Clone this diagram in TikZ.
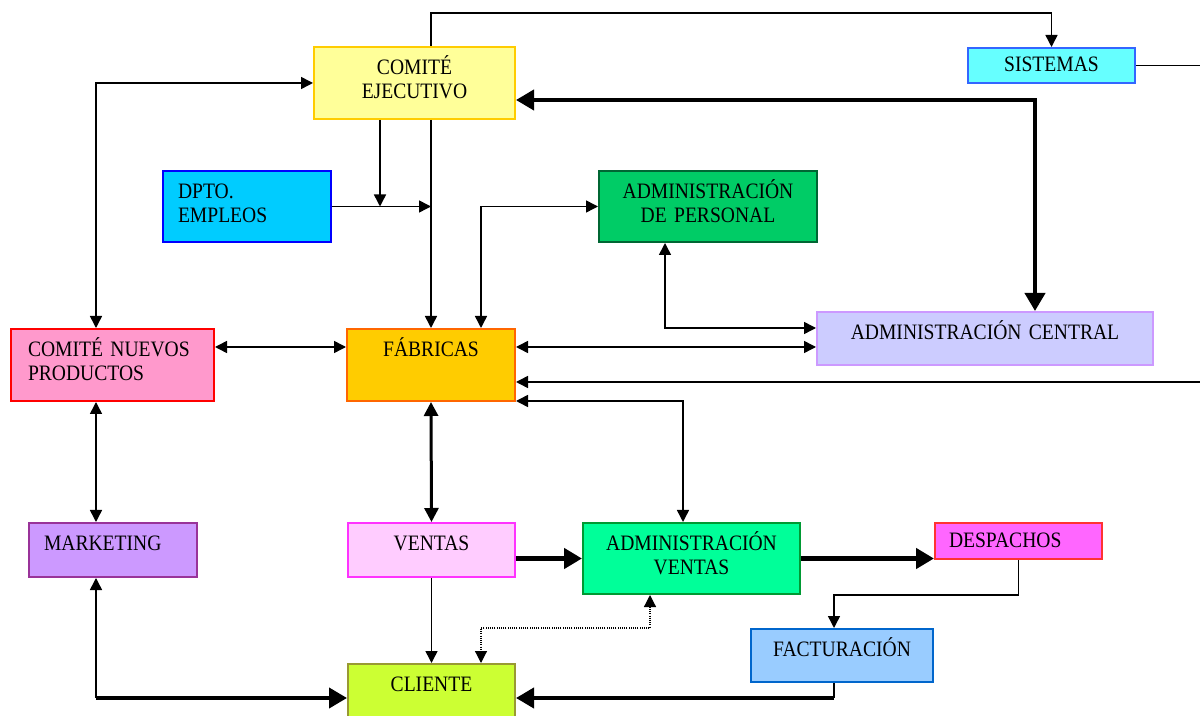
\documentclass[tikz,border=0pt]{standalone}
\usepackage{fontspec}
\setmainfont{Liberation Serif}[FakeStretch=0.89]
\usepackage{tikz}
\usetikzlibrary{arrows.meta}
\definecolor{ejecfill}{HTML}{FFFF99}
\definecolor{ejecdraw}{HTML}{FFCC00}
\definecolor{sistfill}{HTML}{66FFFF}
\definecolor{sistdraw}{HTML}{3366FF}
\definecolor{dptofill}{HTML}{00CCFF}
\definecolor{dptodraw}{HTML}{0000FF}
\definecolor{adperfill}{HTML}{00CC66}
\definecolor{adperdraw}{HTML}{006633}
\definecolor{adcenfill}{HTML}{CCCCFF}
\definecolor{adcendraw}{HTML}{CC99FF}
\definecolor{cnpfill}{HTML}{FF99CC}
\definecolor{cnpdraw}{HTML}{FF0000}
\definecolor{fabfill}{HTML}{FFCC00}
\definecolor{fabdraw}{HTML}{FF6600}
\definecolor{mktfill}{HTML}{CC99FF}
\definecolor{mktdraw}{HTML}{993399}
\definecolor{venfill}{HTML}{FFCCFF}
\definecolor{vendraw}{HTML}{FF33FF}
\definecolor{advenfill}{HTML}{00FF99}
\definecolor{advendraw}{HTML}{009933}
\definecolor{despfill}{HTML}{FF66FF}
\definecolor{despdraw}{HTML}{FF3333}
\definecolor{factfill}{HTML}{99CCFF}
\definecolor{factdraw}{HTML}{0066CC}
\definecolor{clifill}{HTML}{CCFF33}
\definecolor{clidraw}{HTML}{999933}
\tikzset{
    org-box/.style = {rectangle, line width=1pt, anchor=north west, inner ysep=0pt, text height=13.8pt, font=\fontsize{11}{12.2}\selectfont},
    org-box-center/.style = {org-box, inner xsep=0pt, align=center},
    org-box-left/.style = {org-box, align=left},
    org-link/.style = {line width=0.75pt, >={Triangle[length=6pt,width=6pt]}},
    org-link-mid/.style = {line width=1.5pt, >={Triangle[length=7pt,width=7pt]}},
    org-link-bold/.style = {line width=2pt, >={Triangle[length=9pt,width=10pt]}},
    org-link-dots/.style = {line width=0.6pt, dash pattern=on 0.5pt off 0.6pt, >={Triangle[length=6pt,width=6pt]}},
}
\begin{document}
\begin{tikzpicture}[x=0.5pt, y=-0.5pt]
\useasboundingbox (0,0) rectangle (1200,716);
\node [org-box-center, fill=ejecfill, draw=ejecdraw, text width=100.5pt, text depth=22.2pt] (ejec) at (313,46) {COMITÉ\\EJECUTIVO};
\node [org-box-center, fill=sistfill, draw=sistdraw, text width=83.5pt, text height=11.8pt, text depth=5.7pt] (sist) at (967,47) {SISTEMAS};
\node [org-box-left, fill=dptofill, draw=dptodraw, inner xsep=7.5pt, text width=69pt, text depth=21.7pt] (dpto) at (162,170) {DPTO.\\EMPLEOS};
\node [org-box-center, fill=adperfill, draw=adperdraw, text width=109pt, text depth=21.7pt] (adper) at (598,170) {ADMINISTRACIÓN\\DE PERSONAL};
\node [org-box-center, fill=adcenfill, draw=adcendraw, text width=168pt, text depth=12.7pt] (adcen) at (816,311) {ADMINISTRACIÓN CENTRAL};
\node [org-box-left, fill=cnpfill, draw=cnpdraw, inner xsep=8.5pt, text width=84.5pt, text depth=22.2pt] (cnp) at (10,328) {COMITÉ NUEVOS\\PRODUCTOS};
\node [org-box-center, fill=fabfill, draw=fabdraw, text width=84pt, text depth=22.2pt] (fab) at (346,328) {FÁBRICAS};
\node [org-box-left, fill=mktfill, draw=mktdraw, inner xsep=7.5pt, text width=69pt, text depth=13.2pt] (mkt) at (28,522) {MARKETING};
\node [org-box-center, fill=venfill, draw=vendraw, text width=83.5pt, text depth=13.2pt] (ven) at (347,522) {VENTAS};
\node [org-box-center, fill=advenfill, draw=advendraw, text width=108.5pt, text depth=21.7pt] (adven) at (582,522) {ADMINISTRACIÓN\\VENTAS};
\node [org-box-left, fill=despfill, draw=despdraw, inner xsep=7pt, text width=69.5pt, text height=12.3pt, text depth=5.7pt] (desp) at (934,522) {DESPACHOS};
\node [org-box-center, fill=factfill, draw=factdraw, text width=91pt, text depth=12.7pt] (fact) at (750,628) {FACTURACIÓN};
\node [org-box-center, fill=clifill, draw=clidraw, text width=83.5pt, text depth=12.7pt] (cli) at (347,663) {CLIENTE};
\coordinate (edge) at (1200,0);
\coordinate (colmk) at (96,0);
\coordinate (coldp) at (380,0);
\coordinate (colfb) at (481,0);
\coordinate (colpv) at (650,0);
\coordinate (colpe) at (665,0);
\coordinate (colav) at (683,0);
\coordinate (colfa) at (834,0);
\coordinate (colce) at (1035,100);
\coordinate (rowtop) at (0,13);
\coordinate (rowfab) at (0,347);
\coordinate (rowsis) at (0,382);
\coordinate (rowcli) at (0,698);
\draw [org-link, ->] (fab.north |- ejec.north) -- (fab.north |- rowtop) -| (sist.north);
\draw [org-link] (sist.east) -- (edge |- sist.east);
\draw [org-link, <->] (ejec.west) -| (colmk |- cnp.north);
\draw [org-link-bold, <->] (ejec.east |- colce) -| (colce |- adcen.north);
\draw [org-link, ->] (coldp |- ejec.south) -- (coldp |- dpto.east);
\draw [org-link, ->] (fab.north |- ejec.south) -- (fab.north);
\draw [org-link, ->] (dpto.east) -- (fab.north |- dpto.east);
\draw [org-link, <->] (adper.west) -| (colfb |- fab.north);
\draw [org-link, <->] (colpe |- adper.south) |- (adcen.west |- fab.north);
\draw [org-link, <->] (cnp.east |- rowfab) -- (fab.west |- rowfab);
\draw [org-link, <->] (fab.east |- rowfab) -- (adcen.west |- rowfab);
\draw [org-link, ->] (edge |- rowsis) -- (fab.east |- rowsis);
\draw [org-link, <->] ([yshift=0.5pt]fab.south east) -| (colav |- adven.north);
\draw [org-link, <->] (colmk |- cnp.south) -- (colmk |- mkt.north);
\draw [org-link-mid, <->] (fab.south) -- (ven.north);
\draw [org-link-bold, ->, line width=2.5pt] (ven.east |- adven.west) -- (adven.west);
\draw [org-link-bold, ->, line width=2.5pt] (adven.east) -- (desp.west |- adven.east);
\draw [org-link, ->] (desp.south) |- (colfa |- adven.south) -- (colfa |- fact.north);
\draw [org-link, ->] (ven.south) -- (cli.north);
\draw [org-link-dots, <->] (colpv |- adven.south) |- (colfb |- fact.north) -- (colfb |- cli.north);
\draw [org-link, <-] (colmk |- mkt.south) -- (colmk |- rowcli);
\draw [org-link-bold, ->] (colmk |- rowcli) -- (cli.west |- rowcli);
\draw [org-link] (colfa |- fact.south) -- (colfa |- rowcli);
\draw [org-link-bold, ->] (colfa |- rowcli) -- (cli.east |- rowcli);
\end{tikzpicture}
\end{document}
